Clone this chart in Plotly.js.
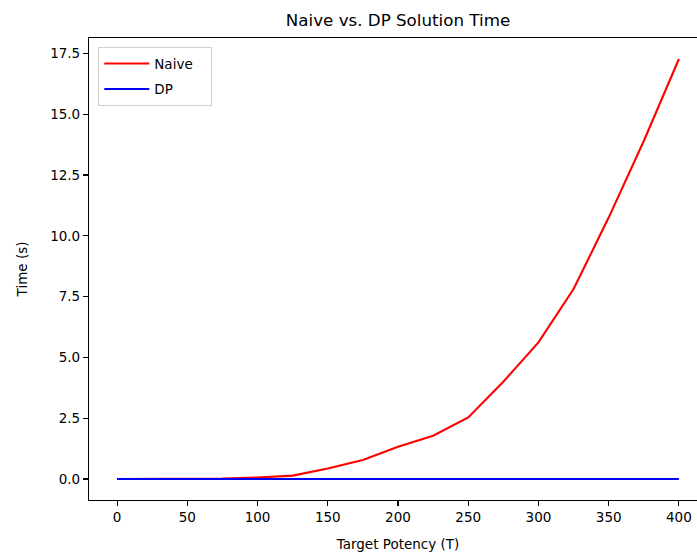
<!DOCTYPE html>
<html>
<head>
<meta charset="utf-8">
<script src="https://cdn.plot.ly/plotly-3.0.1.min.js"></script>
<style>
html,body{margin:0;padding:0;overflow:hidden;background:#fff;width:697px;height:554px;}
#chart{width:720px;height:554px;}
</style>
</head>
<body>
<div id="chart"></div>
<script>
const targetPotency = [0, 25, 50, 75, 100, 125, 150, 175, 200, 225, 250, 275, 300, 325, 350, 375, 400];
const naiveTime = [0, 0.001, 0.005, 0.02, 0.06, 0.14, 0.43, 0.78, 1.33, 1.78, 2.53, 4.0, 5.62, 7.81, 10.75, 13.9, 17.27];
const dpTime = [0.0005, 0.0005, 0.0006, 0.0007, 0.0008, 0.0009, 0.001, 0.0011, 0.0012, 0.0013, 0.0014, 0.0015, 0.0016, 0.0017, 0.0018, 0.0019, 0.002];
const seriesNames = ["Naive", "DP"];
const yTicks = [0, 2.5, 5, 7.5, 10, 12.5, 15, 17.5];
const yTickLabels = ["0.0", "2.5", "5.0", "7.5", "10.0", "12.5", "15.0", "17.5"];
const xTicks = [0, 50, 100, 150, 200, 250, 300, 350, 400];

const font = {family: "DejaVu Sans, sans-serif", size: 13.5, color: "#000"};
const pad = "\u00a0\u00a0\u00a0";

const traces = [
  {x: targetPotency, y: naiveTime, name: seriesNames[0] + pad, legendgroup: "a", mode: "lines", line: {color: "red", width: 2.1}},
  {x: targetPotency, y: dpTime, name: seriesNames[1] + pad, legendgroup: "b", mode: "lines", line: {color: "blue", width: 2.1}}
];

const axisCommon = {
  showline: true, mirror: true, linecolor: "#000", linewidth: 1.1,
  ticks: "outside", ticklen: 5, tickwidth: 1.1, tickcolor: "#000",
  showgrid: false, zeroline: false, tickfont: font
};

const layout = {
  width: 720, height: 554,
  margin: {l: 89, r: 13, t: 38, b: 54},
  paper_bgcolor: "#fff", plot_bgcolor: "#fff",
  font: font,
  title: {text: "Naive vs. DP Solution Time", font: {family: "DejaVu Sans, sans-serif", size: 16.7, color: "#000"}, x: 0.5, xref: "paper", y: 1 - 20/554, yanchor: "middle"},
  xaxis: Object.assign({}, axisCommon, {
    range: [-20, 420], tickvals: xTicks,
    title: {text: "Target Potency (T)", font: font, standoff: 15}
  }),
  yaxis: Object.assign({}, axisCommon, {
    range: [-0.8635, 18.134], tickvals: yTicks, ticktext: yTickLabels,
    title: {text: "Time (s)", font: font, standoff: 19}
  }),
  legend: {
    x: 0.015, y: 0.98, xanchor: "left", yanchor: "top",
    bgcolor: "rgba(255,255,255,0.8)", bordercolor: "#d0d0d0", borderwidth: 1,
    font: font, tracegroupgap: 5, itemwidth: 45
  },
  showlegend: true
};

Plotly.newPlot("chart", traces, layout, {staticPlot: true, displayModeBar: false});
</script>
</body>
</html>
